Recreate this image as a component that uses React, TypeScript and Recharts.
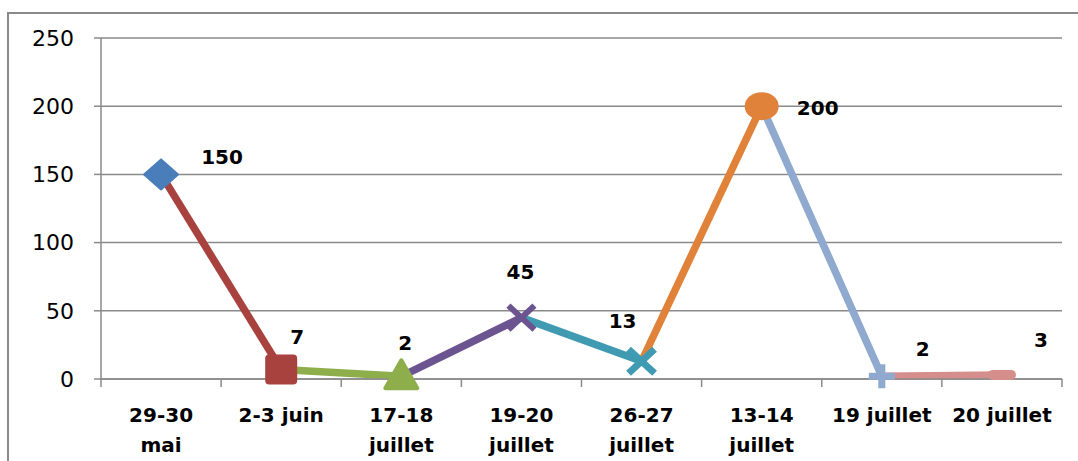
import { LineChart, Line, XAxis, YAxis, CartesianGrid } from 'recharts';

const tickLines = [
	['29-30', 'mai'],
	['2-3 juin'],
	['17-18', 'juillet'],
	['19-20', 'juillet'],
	['26-27', 'juillet'],
	['13-14', 'juillet'],
	['19 juillet'],
	['20 juillet'],
];
const values = [150, 7, 2, 45, 13, 200, 2, 3];
const yTicks = [0, 50, 100, 150, 200, 250];

const COLORS = ['#4A7EBB', '#A8423F', '#8EAE4C', '#6C5490', '#3F9AB2', '#E0823A', '#8FA9CF', '#D68E8C'];
const LABEL_OFFSETS = [
	[61, -17],
	[16, -32],
	[4, -33],
	[-1, -46],
	[-19, -40],
	[56, 2],
	[41, -27],
	[39, -35],
];
const FONT = '"DejaVu Sans", Verdana, sans-serif';
const GRID = '#8a8a8a';

const data = tickLines.map((lines, i) => {
	const row: Record<string, any> = { name: lines.join(' '), value: values[i] };
	for (let k = 1; k < values.length; k++) {
		row['seg' + k] = i === k - 1 || i === k ? values[i] : null;
	}
	return row;
});

function Marker(props: any) {
	const { cx, cy, index } = props;
	if (cx == null || cy == null) return null;
	const c = COLORS[index];
	switch (index) {
		case 0:
			return <path d={`M${cx - 17},${cy} L${cx},${cy - 15} L${cx + 17},${cy} L${cx},${cy + 15} Z`} fill={c} stroke={c} strokeWidth={2} strokeLinejoin='round' />;
		case 1:
			return <rect x={cx - 16} y={cy - 15} width={32} height={30} rx={4} fill={c} />;
		case 2:
			return <path d={`M${cx},${cy - 16} L${cx + 16},${cy + 12} L${cx - 16},${cy + 12} Z`} fill={c} stroke={c} strokeWidth={4} strokeLinejoin='round' />;
		case 3:
		case 4:
			return (
				<g stroke={c} strokeWidth={index === 4 ? 7 : 6}>
					<line x1={cx - 13} y1={cy - 12} x2={cx + 13} y2={cy + 12} />
					<line x1={cx - 13} y1={cy + 12} x2={cx + 13} y2={cy - 12} />
				</g>
			);
		case 5:
			return <ellipse cx={cx} cy={cy} rx={17} ry={14} fill={c} />;
		case 6:
			return (
				<g stroke={c} strokeWidth={7}>
					<line x1={cx - 13} y1={cy} x2={cx + 13} y2={cy} />
					<line x1={cx} y1={cy - 12} x2={cx} y2={cy + 12} />
				</g>
			);
		default:
			return <line x1={cx - 9} y1={cy} x2={cx + 9} y2={cy} stroke={c} strokeWidth={10} strokeLinecap='round' />;
	}
}

function ValueLabel(props: any) {
	const { x, y, index, value } = props;
	const [dx, dy] = LABEL_OFFSETS[index];
	return (
		<text x={x + dx} y={y + dy} textAnchor='middle' dominantBaseline='central' fontFamily={FONT} fontSize={20} fontWeight='bold' fill='#000'>
			{value}
		</text>
	);
}

function CategoryTick(props: any) {
	const { x, y, payload, index } = props;
	const half = payload.offset || 60;
	const lines = tickLines[index] || [];
	return (
		<g>
			<line x1={x - half} y1={y - 8} x2={x - half} y2={y} stroke={GRID} strokeWidth={1.5} />
			{index === tickLines.length - 1 && <line x1={x + half} y1={y - 8} x2={x + half} y2={y} stroke={GRID} strokeWidth={1.5} />}
			{lines.map((t: string, j: number) => (
				<text key={j} x={x} y={y + 28 + j * 30} textAnchor='middle' dominantBaseline='central' fontFamily={FONT} fontSize={20} fontWeight='bold' fill='#000'>
					{t}
				</text>
			))}
		</g>
	);
}

export default function App() {
	return (
		<div style={{ position: 'fixed', left: 0, top: 0, width: 1078, height: 461, background: '#fff' }}>
			<div style={{ position: 'absolute', left: 7, top: 12, right: 0, bottom: 0, borderTop: `2px solid ${GRID}`, borderLeft: `2px solid ${GRID}` }} />
			<LineChart width={1078} height={461} data={data} margin={{ top: 38, right: 16, bottom: 12, left: 11 }} style={{ position: 'absolute', left: 0, top: 0 }}>
				<CartesianGrid vertical={false} stroke={GRID} strokeWidth={1.5} />
				<XAxis dataKey='name' scale='band' axisLine={{ stroke: GRID, strokeWidth: 1.5 }} tickLine={false} tick={<CategoryTick />} height={70} interval={0} />
				<YAxis
					domain={[0, 250]}
					ticks={yTicks}
					width={90}
					axisLine={{ stroke: GRID, strokeWidth: 1.5 }}
					tickLine={{ stroke: GRID, strokeWidth: 1.5 }}
					tickSize={7}
					tickMargin={20}
					tick={{ fill: '#000', fontSize: 22, fontFamily: FONT }}
				/>
				{values.slice(1).map((_, k) => (
					<Line
						key={k}
						dataKey={'seg' + (k + 1)}
						stroke={COLORS[k + 1]}
						strokeWidth={7.5}
						dot={false}
						activeDot={false}
						connectNulls={false}
						isAnimationActive={false}
					/>
				))}
				<Line dataKey='value' stroke='none' dot={<Marker />} activeDot={false} label={<ValueLabel />} isAnimationActive={false} />
			</LineChart>
		</div>
	);
}
